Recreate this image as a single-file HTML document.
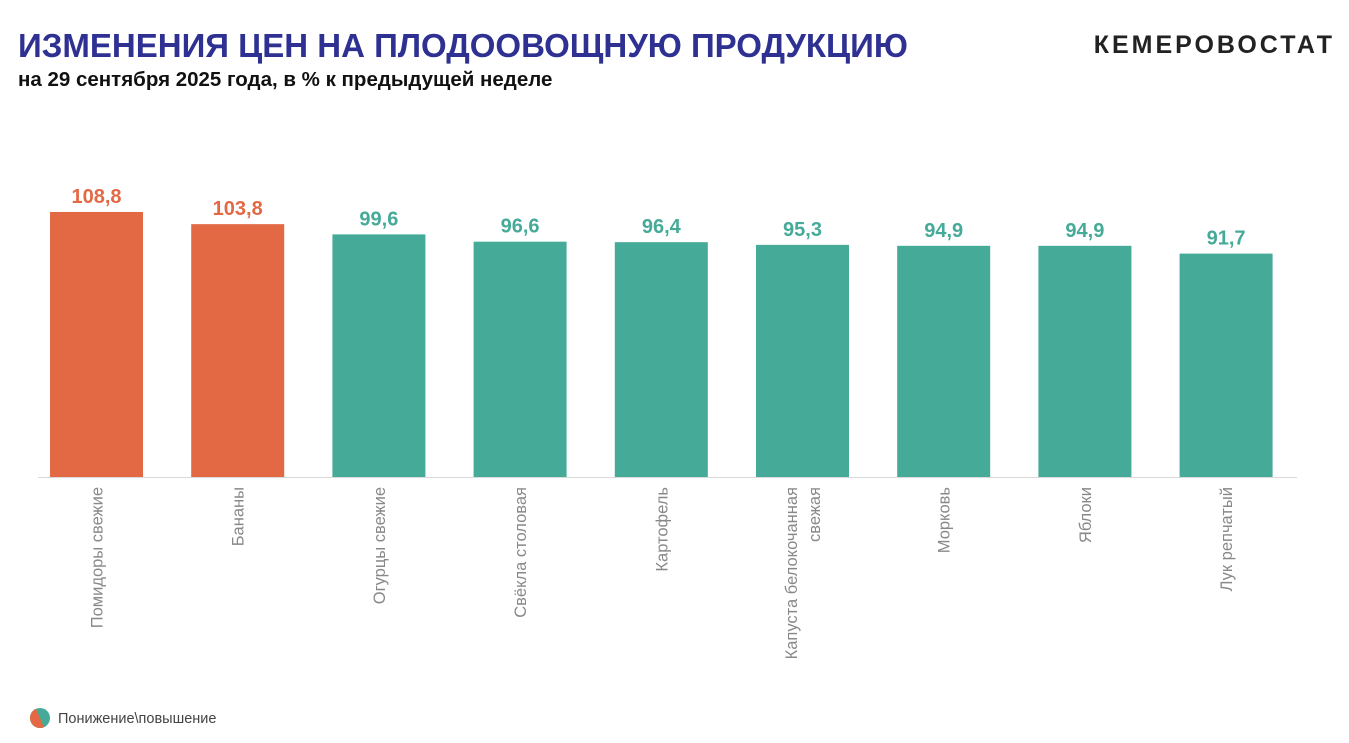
<!DOCTYPE html>
<html><head><meta charset="utf-8"><style>
body{margin:0;width:1349px;height:743px;background:#fff;overflow:hidden;font-family:"Liberation Sans",sans-serif;position:relative}
#t{position:absolute;left:18px;top:27px;font-size:33px;font-weight:bold;color:#2e3192;white-space:nowrap}
#s{position:absolute;left:18px;top:68px;font-size:20.5px;font-weight:bold;color:#111;white-space:nowrap}
#b{position:absolute;right:14px;top:31px;font-size:25px;font-weight:bold;color:#222;letter-spacing:3px}
</style></head><body>
<div id="t">ИЗМЕНЕНИЯ ЦЕН НА ПЛОДООВОЩНУЮ ПРОДУКЦИЮ</div>
<div id="s">на 29 сентября 2025 года, в % к предыдущей неделе</div>
<div id="b">КЕМЕРОВОСТАТ</div>
<svg id="c" width="1349" height="743" style="position:absolute;left:0;top:0"></svg>
<script>
const categories=["Помидоры свежие","Бананы","Огурцы свежие","Свёкла столовая","Картофель","Капуста белокочанная|свежая","Морковь","Яблоки","Лук репчатый"];
const values=[108.8,103.8,99.6,96.6,96.4,95.3,94.9,94.9,91.7];
const labels=["108,8","103,8","99,6","96,6","96,4","95,3","94,9","94,9","91,7"];
const NS="http://www.w3.org/2000/svg",svg=document.getElementById('c');
const base=477,k=2.436,x0=50,step=141.2,bw=93;
const y=v=>base-v*k, x=i=>x0+i*step;
function el(t,a,p){const e=document.createElementNS(NS,t);for(const n in a)e.setAttribute(n,a[n]);(p||svg).appendChild(e);return e;}
values.forEach((v,i)=>{
 const col=v>100?"#e36945":"#46aa98";
 const r=el('rect',{x:x(i),y:y(v),width:bw,height:v*k,fill:col});
 
 
 const t=el('text',{x:x(i)+bw/2,y:y(v)-9,'text-anchor':'middle','font-size':20,'font-weight':'bold',fill:col});
 t.textContent=labels[i];
 
 
 const lines=categories[i].split('|');
 const cx=x(i)+bw/2;
 lines.forEach((ln,j)=>{
  const off=(j-(lines.length-1)/2)*23+6;
  const c=el('text',{transform:`translate(${cx+off},487) rotate(-90)`,'text-anchor':'end','font-size':16.5,fill:'#888'});
  c.textContent=ln;
  
  
 });
});
const ax=el('line',{x1:38,x2:1297,y1:base+0.5,y2:base+0.5,stroke:'#d9d9d9','stroke-width':1});


const g=el('g',{});


el('circle',{cx:40,cy:718,r:10,fill:'#46aa98'},g);
el('path',{d:'M36,708.8 A10,10 0 0 0 44,727.2 Z',fill:'#e36945'},g);
const lt=el('text',{x:58,y:723,'font-size':14.5,fill:'#444'},g);
lt.textContent='Понижение\\повышение';
</script>
</body></html>
